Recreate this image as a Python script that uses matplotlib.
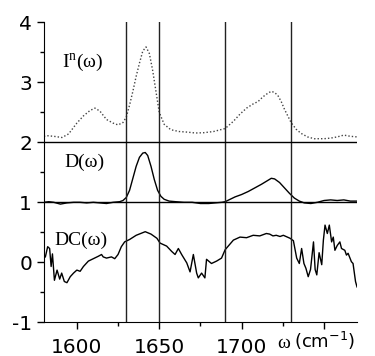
import matplotlib
matplotlib.use("Agg")
import matplotlib.pyplot as plt
from matplotlib.ticker import MultipleLocator

plt.rcParams['axes.unicode_minus'] = False
plt.rcParams['font.family'] = ['DejaVu Sans']
plt.rcParams['mathtext.fontset'] = 'custom'
plt.rcParams['mathtext.rm'] = 'Liberation Serif'
plt.rcParams['mathtext.sf'] = 'DejaVu Sans'

# I^n(omega) (dotted, offset +2)
in_x = [1580, 1582, 1586, 1591, 1595, 1600, 1604, 1608, 1611, 1614, 1618, 1622, 1625, 1628, 1630,
        1632, 1634, 1636, 1638, 1640, 1642, 1644, 1646, 1648, 1650, 1653, 1657, 1662, 1667, 1672, 1677,
        1683, 1690, 1695, 1699, 1703, 1707, 1710, 1713, 1716, 1718, 1720, 1722, 1724, 1726, 1728, 1730,
        1733, 1736, 1740, 1744, 1750, 1754, 1758, 1762, 1766, 1770]
in_y = [2.10, 2.11, 2.10, 2.08, 2.14, 2.32, 2.44, 2.53, 2.57, 2.52, 2.38, 2.32, 2.29, 2.33, 2.42,
        2.62, 2.85, 3.10, 3.32, 3.52, 3.59, 3.48, 3.20, 2.85, 2.50, 2.30, 2.21, 2.18, 2.17, 2.155, 2.16,
        2.18, 2.23, 2.35, 2.47, 2.57, 2.64, 2.68, 2.76, 2.82, 2.85, 2.83, 2.78, 2.68, 2.55, 2.44, 2.33,
        2.22, 2.15, 2.09, 2.06, 2.06, 2.07, 2.09, 2.12, 2.10, 2.09]

# D(omega) (offset +1)
d_x = [1580, 1583, 1586, 1590, 1594, 1598, 1602, 1606, 1610, 1614, 1618, 1622, 1626, 1628, 1630, 1632,
       1634, 1636, 1638, 1640, 1641.5, 1643, 1645, 1647, 1649, 1651, 1653, 1656, 1660, 1665, 1670, 1675,
       1680, 1684, 1688, 1690, 1693, 1696, 1700, 1704, 1708, 1712, 1715, 1718, 1720, 1723, 1726, 1729,
       1732, 1735, 1738, 1742, 1746, 1750, 1754, 1758, 1762, 1766, 1770]
d_y = [1.0, 1.01, 1.0, 0.97, 0.99, 1.0, 1.0, 0.99, 1.0, 0.99, 0.98, 1.0, 1.01, 1.03, 1.08, 1.2,
       1.4, 1.6, 1.75, 1.82, 1.83, 1.78, 1.6, 1.38, 1.2, 1.1, 1.05, 1.02, 1.01, 1.0, 1.0, 0.98,
       0.98, 0.99, 1.0, 1.01, 1.05, 1.09, 1.13, 1.18, 1.24, 1.3, 1.35, 1.4, 1.39, 1.33, 1.24, 1.15,
       1.07, 1.02, 0.99, 0.98, 1.0, 1.03, 1.04, 1.03, 1.04, 1.02, 1.02]

# DC(omega)
dc_x = [1580.9, 1582.3, 1583.5, 1584.4, 1585.2, 1586.4, 1588, 1589.6, 1590.8, 1592.4, 1594, 1596, 1598,
        1600, 1602, 1604, 1607, 1610, 1613, 1615, 1616, 1618, 1621, 1623, 1625, 1627, 1629, 1632, 1636,
        1641.5, 1645, 1648.6, 1650.5, 1654.5, 1657.6, 1659.6, 1661.6, 1663.6, 1666.7, 1668.7, 1670.7,
        1672.7, 1673.7, 1675.7, 1677.7, 1678.7, 1681.7, 1684.8, 1687.8, 1690, 1695, 1699, 1703, 1707,
        1711, 1715, 1717, 1719, 1721, 1723.3, 1725.3, 1729.4, 1731.4, 1733.4, 1735, 1736.4, 1737.8, 1739,
        1740.4, 1741.8, 1743.6, 1744.6, 1745.6, 1747, 1748.6, 1749.6, 1750.6, 1752, 1753.2, 1754.6,
        1755.6, 1756.6, 1758, 1759.6, 1760.6, 1762.6, 1763.6, 1764.6, 1766.6, 1767.6, 1769.1, 1770]
dc_y = [0.09, 0.26, 0.23, -0.07, 0.14, -0.30, -0.13, -0.28, -0.18, -0.32, -0.34, -0.24, -0.18,
        -0.13, -0.15, -0.07, 0.02, 0.06, 0.10, 0.13, 0.09, 0.07, 0.09, 0.06, 0.13, 0.26, 0.34, 0.38, 0.45,
        0.51, 0.47, 0.40, 0.32, 0.27, 0.18, 0.13, 0.23, 0.13, -0.01, -0.16, 0.13,
        -0.18, -0.26, -0.18, -0.26, 0.05, -0.02, 0.02, 0.07, 0.21, 0.37, 0.42, 0.41, 0.45,
        0.44, 0.48, 0.47, 0.44, 0.45, 0.43, 0.45, 0.40, 0.36, 0.07, -0.02, 0.23, -0.02, -0.10,
        -0.24, -0.12, 0.34, -0.12, -0.21, 0.16, -0.04, 0.37, 0.62, 0.48, 0.62, 0.34,
        0.42, 0.20, 0.28, 0.34, 0.23, 0.20, 0.12, 0.15, 0.01, -0.02, -0.32, -0.41]

vlines = [1630, 1650, 1690, 1730]
hlines = [2, 1]
xticks = [1600, 1650, 1700, 1750]
xticklabels = ["1600", "1650", "1700", ""]
yticks = [-1, 0, 1, 2, 3, 4]

fig = plt.figure(figsize=(3.75, 3.56), dpi=100)
ax = fig.add_axes([0.117, 0.0947, 0.835, 0.8426])

ax.plot(in_x, in_y, linestyle=(0, (1, 1.5)), color='#444444', lw=1.0)
ax.plot(d_x, d_y, color='black', lw=1.0)
ax.plot(dc_x, dc_y, color='black', lw=1.0)

for v in vlines:
    ax.axvline(v, color='#222222', lw=1.0)
for h in hlines:
    ax.axhline(h, color='black', lw=1.0)

ax.set_xlim(1580, 1770)
ax.set_ylim(-1, 4)
ax.spines['top'].set_visible(False)
ax.spines['right'].set_visible(False)
ax.set_xticks(xticks)
ax.set_xticklabels(xticklabels)
ax.set_yticks(yticks)
ax.xaxis.set_minor_locator(MultipleLocator(25))
ax.yaxis.set_minor_locator(MultipleLocator(0.5))
ax.tick_params(which='major', direction='out', length=5, width=1, labelsize=14.5)
ax.tick_params(which='minor', direction='out', length=3, width=1)
ax.tick_params(axis='x', which='major', pad=6)

serif = ['Liberation Serif', 'DejaVu Serif']
ax.text(1591, 3.32, "I$^{\\rm n}$(\u03c9)", family=serif, fontsize=14, va='center')
ax.text(1592.5, 1.67, "D(\u03c9)", family=serif, fontsize=14, va='center')
ax.text(1586.5, 0.37, "DC(\u03c9)", family=serif, fontsize=14, va='center')

fig.text(0.738, 0.012, "\u03c9", family=serif, fontsize=14, ha='left', va='bottom')
fig.text(0.785, 0.012, "(cm$^{\\mathsf{-1}}$)", fontsize=13, ha='left', va='bottom')

fig.savefig("out.png", dpi=100)
